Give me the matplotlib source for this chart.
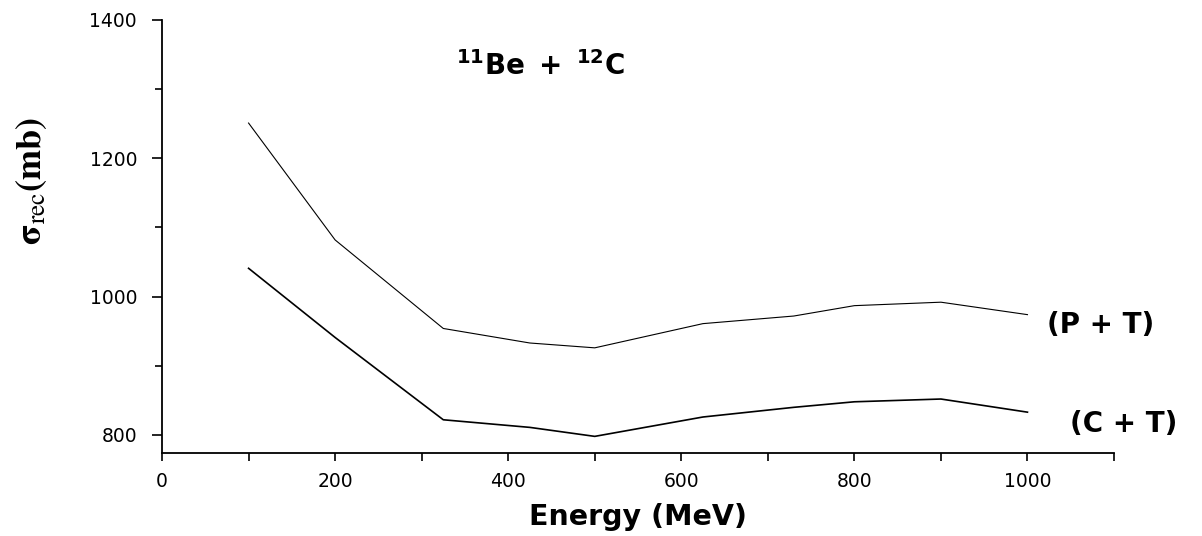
import matplotlib
matplotlib.use("Agg")
import matplotlib.pyplot as plt
from matplotlib.ticker import MultipleLocator

# data
energy = [100, 200, 325, 425, 500, 625, 730, 800, 900, 1000]
sigma_pt = [1251, 1082, 954, 933, 926, 961, 972, 987, 992, 974]
sigma_ct = [1041, 941, 822, 811, 798, 826, 840, 848, 852, 833]

plt.rcParams['font.family'] = 'DejaVu Sans'
plt.rcParams['mathtext.fontset'] = 'stix'

fig = plt.figure(figsize=(12.02, 5.36), dpi=100)
ax = fig.add_axes([0.1348, 0.1549, 0.7920, 0.8078])

ax.plot(energy, sigma_pt, color='black', lw=0.8)
ax.plot(energy, sigma_ct, color='black', lw=1.2)

ax.set_xlim(0, 1100)
ax.set_ylim(774, 1400)
ax.xaxis.set_major_locator(MultipleLocator(200))
ax.xaxis.set_minor_locator(MultipleLocator(100))
ax.yaxis.set_major_locator(MultipleLocator(200))
ax.yaxis.set_minor_locator(MultipleLocator(100))

for s in ['top', 'right']:
    ax.spines[s].set_visible(False)
for s in ['left', 'bottom']:
    ax.spines[s].set_linewidth(1.3)

ax.tick_params(axis='both', which='both', direction='out', width=1.2, labelsize=13.5)
ax.tick_params(axis='y', which='major', length=7, pad=11)
ax.tick_params(axis='y', which='minor', length=5)
ax.tick_params(axis='x', which='both', length=6, pad=8)

ax.set_xlabel('Energy (MeV)', fontsize=20.5, fontweight='bold', labelpad=8)
ax.set_ylabel(r'$\mathbf{\sigma}_{\mathrm{rec}}\mathbf{(mb)}$', fontsize=26,
              va='center')
ax.yaxis.set_label_coords(-0.137, 0.628)

ax.text(437, 1333, r'$\mathbf{^{11}Be\ +\ ^{12}C}$', fontsize=20,
        math_fontfamily='dejavusans', ha='center', va='center')
ax.text(1084, 959, '(P + T)', fontsize=20, fontweight='bold',
        ha='center', va='center', clip_on=False)
ax.text(1111, 816, '(C + T)', fontsize=20, fontweight='bold',
        ha='center', va='center', clip_on=False)

fig.savefig('out.png', dpi=100)
